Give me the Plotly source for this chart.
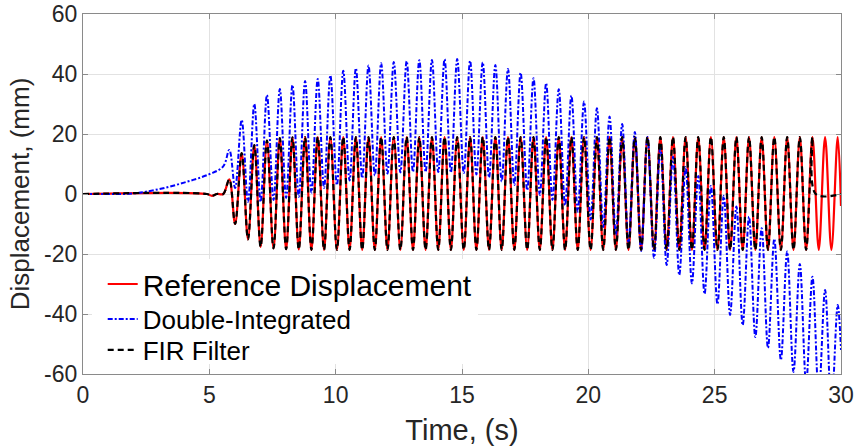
import plotly.graph_objects as go

# ---------------- data ----------------
# common pre-excitation samples (s)
pre_t = [0.0, 4.9, 5.1, 5.3, 5.55, 5.79, 6.02]
red_pre = [0.0, 0.0, -0.6, 0.0, 0.0, 4.9, -10.0]

blue_pre_t = [0.0, 1.0, 2.0, 3.0, 4.0, 5.0, 5.55, 5.79, 6.02]
blue_pre = [0.0, 0.0, 0.2, 1.6, 3.8, 6.6, 9.2, 14.7, 2.0]

# times of the oscillation maxima / minima (s)
peak_t = [6.28, 6.78, 7.28, 7.79, 8.29, 8.79, 9.29, 9.79, 10.30, 10.80, 11.30, 11.80,
          12.30, 12.81, 13.31, 13.81, 14.31, 14.81, 15.32, 15.82, 16.32, 16.82, 17.32, 17.83,
          18.33, 18.83, 19.33, 19.83, 20.34, 20.84, 21.34, 21.84, 22.34, 22.85, 23.35, 23.85,
          24.35, 24.85, 25.36, 25.86, 26.36, 26.86, 27.36, 27.87, 28.37, 28.87, 29.37, 29.87]
trough_t = [6.53, 7.03, 7.54, 8.04, 8.54, 9.04, 9.54, 10.05, 10.55, 11.05, 11.55, 12.05,
            12.56, 13.06, 13.56, 14.06, 14.56, 15.07, 15.57, 16.07, 16.57, 17.07, 17.58, 18.08,
            18.58, 19.08, 19.58, 20.09, 20.59, 21.09, 21.59, 22.09, 22.60, 23.10, 23.60, 24.10,
            24.60, 25.11, 25.61, 26.11, 26.61, 27.11, 27.62, 28.12, 28.62, 29.12, 29.62]

# Reference displacement (mm)
red_peaks = [13.6, 16.3, 17.8, 18.6, 18.9, 19.0, 19.0, 19.0, 19.0, 19.0, 19.0, 19.0,
             19.0, 19.0, 19.0, 19.0, 19.0, 19.0, 19.0, 19.0, 19.0, 19.0, 19.0, 19.0,
             19.0, 19.0, 19.0, 19.0, 19.0, 19.0, 19.0, 19.0, 19.0, 19.0, 19.0, 19.0,
             19.0, 19.0, 19.0, 19.0, 19.0, 19.0, 19.0, 19.0, 19.0, 19.0, 19.0, 19.0]
red_troughs = [-15.1, -17.6, -18.1, -18.4, -18.5, -18.6, -18.6, -18.6, -18.6, -18.6, -18.6, -18.6,
               -18.6, -18.6, -18.6, -18.6, -18.6, -18.6, -18.6, -18.6, -18.6, -18.6, -18.6, -18.6,
               -18.6, -18.6, -18.6, -18.6, -18.6, -18.6, -18.6, -18.6, -18.6, -18.6, -18.6, -18.6,
               -18.6, -18.6, -18.6, -18.6, -18.6, -18.6, -18.6, -18.6, -18.6, -18.6, -18.6]
red_end_t = [30.0]
red_end = [-4.0]

# Double-integrated displacement (mm)
blue_peaks = [24.7, 30.0, 33.0, 35.0, 36.3, 37.7, 38.3, 39.5, 41.1, 41.9, 42.8, 43.6,
              44.0, 44.3, 44.6, 44.7, 44.9, 45.0, 44.4, 43.9, 43.0, 41.7, 40.4, 38.6,
              36.9, 34.9, 32.8, 30.8, 28.6, 25.8, 23.3, 20.7, 19.0, 15.7, 12.4, 9.0,
              6.0, 2.7, -0.6, -4.2, -7.6, -11.4, -15.0, -19.2, -23.3, -27.6, -32.0, -37.0]
blue_troughs = [-2.6, -2.6, -2.0, -1.3, -0.9, 0.5, 2.0, 3.0, 4.5, 5.3, 6.2, 6.8,
                7.2, 7.4, 7.4, 7.3, 7.2, 7.0, 6.5, 5.5, 4.2, 3.0, 1.3, -0.3,
                -2.0, -3.7, -5.9, -8.5, -11.0, -13.7, -16.5, -19.0, -21.3, -23.7, -27.0, -29.8,
                -33.3, -36.7, -40.3, -43.7, -47.7, -51.3, -55.3, -59.3, -63.0, -67.0, -71.0]
blue_end_t = [30.0]
blue_end = [-52.0]

# FIR filter output: follows reference until this many extrema, then zero
fir_last_extremum = 91
fir_tail_t = [29.0, 30.0]
fir_tail = [0.0, 0.0]

x_ticks = [0, 5, 10, 15, 20, 25, 30]
y_ticks = [-60, -40, -20, 0, 20, 40, 60]


def interleave(pt, pv, tt, tv):
    ts, vs = [], []
    for i in range(len(pt)):
        ts.append(pt[i]); vs.append(pv[i])
        if i < len(tt):
            ts.append(tt[i]); vs.append(tv[i])
    return ts, vs


ext_t, red_ext = interleave(peak_t, red_peaks, trough_t, red_troughs)
_, blue_ext = interleave(peak_t, blue_peaks, trough_t, blue_troughs)

red_x = pre_t + ext_t + red_end_t
red_y = red_pre + red_ext + red_end
blue_x = blue_pre_t + ext_t + blue_end_t
blue_y = blue_pre + blue_ext + blue_end
fir_x = pre_t + ext_t[:fir_last_extremum] + fir_tail_t
fir_y = red_pre + red_ext[:fir_last_extremum] + fir_tail

FONT = "Liberation Sans, Arial, sans-serif"
TXT = "#262626"

fig = go.Figure()
fig.add_trace(go.Scatter(x=red_x, y=red_y, mode="lines", name="Reference Displacement",
                         legend="legend",
                         line=dict(color="#ff0000", width=2.2, shape="spline")))
fig.add_trace(go.Scatter(x=blue_x, y=blue_y, mode="lines", name="Double-Integrated",
                         legend="legend2",
                         line=dict(color="#0000ff", width=2, shape="spline",
                                   dash="5px,2px,2px,2px")))
fig.add_trace(go.Scatter(x=fir_x, y=fir_y, mode="lines", name="FIR Filter",
                         legend="legend3",
                         line=dict(color="#000000", width=2.2, shape="spline",
                                   dash="6px,4px")))

axis_common = dict(showgrid=True, gridcolor="#e2e2e2", gridwidth=1,
                   showline=True, linecolor="#8a8a8a", linewidth=1.2, mirror="ticks",
                   ticks="inside", ticklen=5, tickcolor="#8a8a8a", zeroline=False,
                   automargin=False,
                   tickfont=dict(family=FONT, size=23, color=TXT))


def leg(ypix, size):
    return dict(x=0.026, y=1 - (ypix - 14) / 360, xanchor="left", yanchor="middle",
                bgcolor="rgba(0,0,0,0)", borderwidth=0,
                font=dict(family=FONT, size=size, color="#000000"))


fig.update_layout(
    width=856, height=446,
    margin=dict(l=83, r=15, t=14, b=72),
    paper_bgcolor="white", plot_bgcolor="white",
    font=dict(family=FONT, color=TXT),
    showlegend=True,
    legend=leg(284, 30),
    legend2=leg(319, 26),
    legend3=leg(350, 26),
    # white legend box (MATLAB legend background, no border)
    shapes=[dict(type="rect", xref="paper", yref="paper", layer="above",
                 x0=(92 - 83) / 758, x1=(478 - 83) / 758,
                 y0=1 - (364 - 14) / 360, y1=1 - (259 - 14) / 360,
                 fillcolor="white", line=dict(width=0))],
    xaxis=dict(range=[0, 30], tickvals=x_ticks, ticktext=[str(v) for v in x_ticks],
               title=dict(text="Time, (s)", font=dict(family=FONT, size=29, color=TXT), standoff=13),
               **axis_common),
    yaxis=dict(range=[-60, 60], tickvals=y_ticks, ticktext=[str(v) for v in y_ticks],
               title=dict(text="Displacement, (mm)", font=dict(family=FONT, size=26, color=TXT), standoff=6),
               **axis_common),
)

fig.write_html("out.html")
